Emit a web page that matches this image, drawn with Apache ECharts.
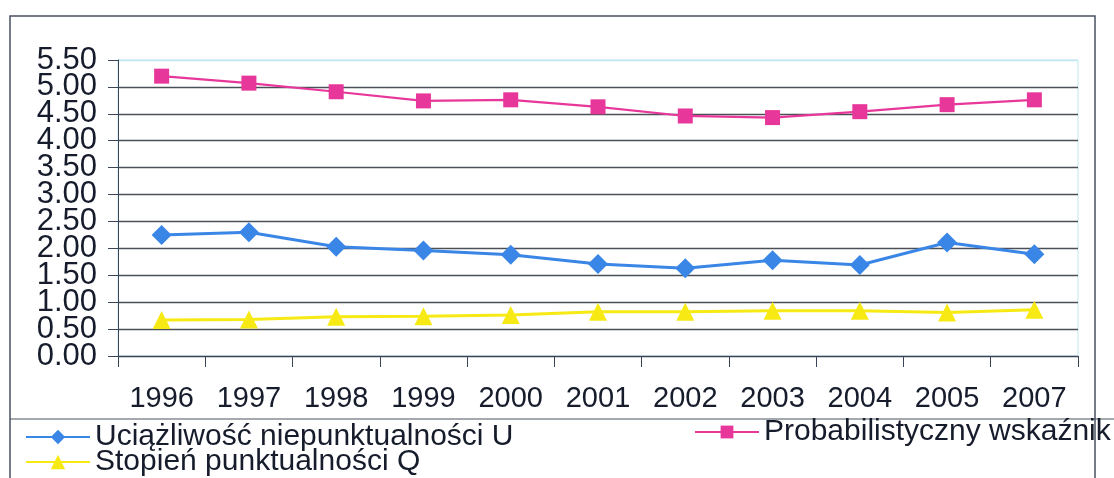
<!DOCTYPE html>
<html>
<head>
<meta charset="utf-8">
<script src="https://cdn.jsdelivr.net/npm/echarts@6/dist/echarts.min.js"></script>
<style>
  html, body { margin: 0; padding: 0; background: #fff; }
  #chart { width: 1114px; height: 478px; }
</style>
</head>
<body>
<div id="chart"></div>
<script>
// years on the x axis (2006 is missing in the source)
const years = ["1996", "1997", "1998", "1999", "2000", "2001", "2002", "2003", "2004", "2005", "2007"];

const seriesNames = ["Uciążliwość niepunktualności U", "Probabilistyczny wskaźnik", "Stopień punktualności Q"];

const uciazliwoscU = [2.25, 2.30, 2.03, 1.96, 1.88, 1.71, 1.63, 1.78, 1.69, 2.11, 1.89];
const probabilistyczny = [5.20, 5.07, 4.91, 4.74, 4.76, 4.63, 4.46, 4.43, 4.54, 4.67, 4.76];
const stopienQ = [0.67, 0.68, 0.73, 0.74, 0.76, 0.82, 0.82, 0.84, 0.84, 0.81, 0.86];

const textColor = "#161c2c";
const font = "Liberation Sans, Arial, sans-serif";

const chart = echarts.init(document.getElementById("chart"));

const legendText = { color: textColor, fontSize: 30, fontFamily: font };
const yLabelText = { color: textColor, fontSize: 31, fontFamily: font, margin: 21 };

// the labels sit closer together than their height, so they are split
// over two overlapping axes to stop ECharts from hiding any of them
const yAxisBase = {
    type: "value",
    min: 0,
    max: 5.5,
    interval: 0.5,
    position: "left",
};

const option = {
    backgroundColor: "#fff",
    animation: false,
    grid: {
        left: 118,
        right: 36,
        top: 60,
        bottom: 122,
        show: true,
        borderColor: "#bfe6f2",
        borderWidth: 1,
    },
    legend: [
        {
            data: [seriesNames[0]],
            left: 25, top: 422,
            itemWidth: 64, itemHeight: 18, itemGap: 0,
            textStyle: legendText,
            padding: 0,
        },
        {
            data: [seriesNames[2]],
            left: 25, top: 447,
            itemWidth: 64, itemHeight: 18, itemGap: 0,
            textStyle: legendText,
            padding: 0,
        },
        {
            data: [seriesNames[1]],
            left: 694, top: 417,
            itemWidth: 64, itemHeight: 16, itemGap: 0,
            textStyle: legendText,
            padding: 0,
        },
    ],
    xAxis: {
        type: "category",
        data: years,
        boundaryGap: true,
        axisLine: { lineStyle: { color: "#3a4558", width: 1 } },
        axisTick: { show: true, length: 11, lineStyle: { color: "#3a4558" } },
        axisLabel: { color: textColor, fontSize: 29, fontFamily: font, margin: 28 },
    },
    yAxis: [
        {
            ...yAxisBase,
            axisLine: { show: true, lineStyle: { color: "#3a4558", width: 1 } },
            axisTick: { show: true, length: 10, lineStyle: { color: "#3a4558" } },
            axisLabel: {
                ...yLabelText,
                formatter: (v, i) => (i % 2 === 0 ? v.toFixed(2) : ""),
            },
            splitLine: {
                show: true,
                lineStyle: {
                    color: ["#3a4558", "#4a4f58", "#4a4f58", "#4a4f58", "#4a4f58", "#4a4f58",
                            "#4a4f58", "#4a4f58", "#4a4f58", "#4a4f58", "#4a4f58", "#bfe6f2"],
                    width: 1.4,
                },
            },
        },
        {
            ...yAxisBase,
            offset: 0,
            axisLine: { show: false },
            axisTick: { show: false },
            splitLine: { show: false },
            axisLabel: {
                ...yLabelText,
                formatter: (v, i) => (i % 2 === 1 ? v.toFixed(2) : ""),
            },
        },
    ],
    graphic: [
        // outer chart frame and legend separator
        { type: "polyline", shape: { points: [[10, 478], [10, 16], [1095, 16], [1095, 478]] },
          style: { stroke: "#4a5260", lineWidth: 1.5, fill: null } },
        { type: "line", shape: { x1: 10, y1: 419, x2: 1114, y2: 419 },
          style: { stroke: "#4a5260", lineWidth: 1.2 } },
    ],
    series: [
        {
            name: seriesNames[0],
            type: "line",
            data: uciazliwoscU,
            symbol: "diamond",
            symbolSize: 20,
            color: "#3a86e6",
            lineStyle: { width: 3, color: "#3a86e6" },
            z: 3,
        },
        {
            name: seriesNames[1],
            type: "line",
            data: probabilistyczny,
            symbol: "rect",
            symbolSize: 15,
            color: "#e8379a",
            lineStyle: { width: 2.2, color: "#e8379a" },
            z: 3,
        },
        {
            name: seriesNames[2],
            type: "line",
            data: stopienQ,
            symbol: "triangle",
            symbolSize: 18,
            color: "#f7ea14",
            lineStyle: { width: 3, color: "#f7ea14" },
            z: 3,
        },
    ],
};

chart.setOption(option);
</script>
</body>
</html>
